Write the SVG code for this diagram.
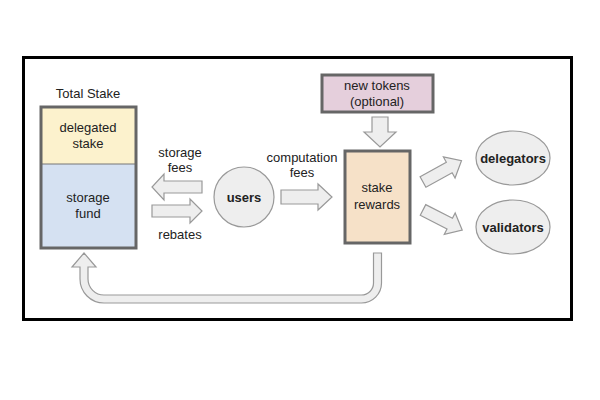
<svg xmlns="http://www.w3.org/2000/svg" width="600" height="400" viewBox="0 0 600 400">
<style>
text{font-family:"Liberation Sans",Arial,sans-serif;font-size:13px;fill:#222;text-anchor:middle}
.b{font-weight:bold}
.box{stroke:#666;stroke-width:3}
.arr{fill:#eeeeee;stroke:#999;stroke-width:1.2;stroke-linejoin:miter}
.ell{fill:#eeeeee;stroke:#999;stroke-width:1.2}
</style>
<rect width="600" height="400" fill="#fff"/>
<rect x="23.5" y="57.5" width="548" height="262" fill="none" stroke="#000" stroke-width="3"/>
<g id="total-stake">
<text x="88" y="98">Total Stake</text>
<rect x="41" y="107" width="95" height="57" fill="#fcf2cd"/>
<rect x="41" y="164" width="95" height="84" fill="#d5e1f2"/>
<line x1="41" y1="164" x2="136" y2="164" stroke="#777" stroke-width="1"/>
<rect x="41" y="107" width="95" height="141" fill="none" class="box"/>
<text x="88" y="132">delegated</text>
<text x="88" y="148">stake</text>
<text x="88" y="202">storage</text>
<text x="88" y="218">fund</text>
</g>
<g id="users">
<circle cx="244" cy="197" r="30" class="ell"/>
<text x="244" y="202" class="b">users</text>
</g>
<g id="new-tokens">
<rect x="322" y="75" width="111" height="37" fill="#e5cfdc" class="box"/>
<text x="377" y="90">new tokens</text>
<text x="377" y="106">(optional)</text>
</g>
<g id="stake-rewards">
<rect x="345" y="151" width="65" height="92" fill="#f6e1c8" class="box"/>
<text x="377" y="192">stake</text>
<text x="377" y="209">rewards</text>
</g>
<g id="delegators">
<ellipse cx="513" cy="158" rx="37" ry="27" class="ell"/>
<text x="513" y="163" class="b">delegators</text>
</g>
<g id="validators">
<ellipse cx="513" cy="227" rx="37" ry="27" class="ell"/>
<text x="513" y="232" class="b">validators</text>
</g>
<g id="connectors">
<path class="arr" d="M202,181 H164 V174 L152,187 L164,200 V193 H202 Z"/>
<text x="180" y="157">storage</text>
<text x="180" y="172">fees</text>
<path class="arr" d="M152,205 H190 V199 L202,211 L190,223 V217 H152 Z"/>
<text x="180" y="239">rebates</text>
<path class="arr" d="M281,190 H318 V184 L332,197 L318,210 V204 H281 Z"/>
<text x="302" y="162">computation</text>
<text x="302" y="177">fees</text>
<path class="arr" d="M372,117 H388 V132 H396 L380,147 L364,132 H372 Z"/>
<path class="arr" transform="translate(423,182) rotate(-29)" d="M0,-6 H30 V-12 L44,0 L30,12 V6 H0 Z"/>
<path class="arr" transform="translate(423,210) rotate(27)" d="M0,-6 H30 V-12 L44,0 L30,12 V6 H0 Z"/>
<path class="arr" d="M373.5,253 H381.5 V283 A20,20 0 0 1 361.5,303 H104 A24,24 0 0 1 80,279 V267 H72 L84,253 L96,267 H88 V279 A16,16 0 0 0 104,295 H361.5 A12,12 0 0 0 373.5,283 Z"/>
</g>
</svg>
